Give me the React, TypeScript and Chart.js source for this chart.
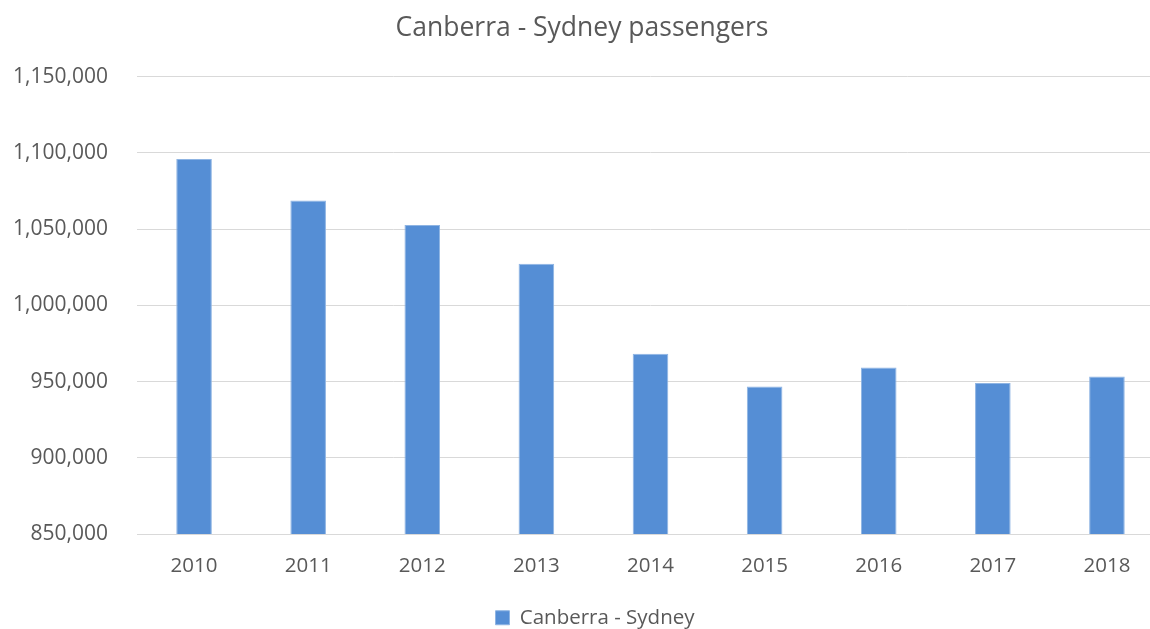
import React, { useEffect, useRef } from "react";
import { Chart, registerables } from "chart.js";

Chart.register(...registerables);

const years = ["2010", "2011", "2012", "2013", "2014", "2015", "2016", "2017", "2018"];
const passengers = [1096000, 1068800, 1052800, 1027400, 968200, 946800, 959200, 949100, 953400];
const seriesName = "Canberra - Sydney";
const chartTitle = "Canberra - Sydney passengers";
const yMin = 850000;
const yMax = 1150000;
const yStep = 50000;

const FONT = "'Open Sans', sans-serif";
const TEXT = "#595959";
const GRID = "#d9d9d9";
const BAR = "#558ed5";

const legendShift = {
  id: "legendShift",
  afterLayout(chart: any) {
    const l = chart.legend;
    if (l) {
      l.left += 13;
      l.right += 13;
    }
  },
};

export default function App() {
  const ref = useRef<HTMLCanvasElement>(null);
  useEffect(() => {
    if (!ref.current) return;
    const chart = new Chart(ref.current, {
      type: "bar",
      data: {
        labels: years,
        datasets: [
          {
            label: seriesName,
            data: passengers,
            backgroundColor: BAR,
            borderColor: "#8eb4e3",
            borderWidth: 1,
            categoryPercentage: 1,
            barPercentage: 0.312,
          },
        ],
      },
      plugins: [legendShift],
      options: {
        responsive: false,
        animation: false,
        layout: { padding: { left: 0, right: 6, top: 0, bottom: 0 } },
        plugins: {
          title: {
            display: true,
            text: chartTitle,
            color: TEXT,
            font: { family: FONT, size: 26.5, weight: "normal" },
            padding: { top: 13, bottom: 32 },
          },
          legend: {
            position: "bottom",
            labels: {
              color: TEXT,
              font: { family: FONT, size: 20.5 },
              boxWidth: 14,
              boxHeight: 14,
              padding: 8,
            },
          },
          tooltip: { enabled: false },
        },
        scales: {
          x: {
            grid: { display: false, drawTicks: false },
            border: { display: true, color: GRID, width: 1 },
            ticks: { color: TEXT, font: { family: FONT, size: 20.5 }, padding: 20 },
            afterFit: (s: any) => {
              s.height = 65.5;
            },
          },
          y: {
            min: yMin,
            max: yMax,
            grid: { color: GRID, lineWidth: 1, drawTicks: false },
            border: { display: false },
            ticks: {
              stepSize: yStep,
              color: TEXT,
              font: { family: FONT, size: 21 },
              padding: 29,
              callback: (v: any) => Number(v).toLocaleString("en-US"),
            },
            afterFit: (s: any) => {
              s.width = 137;
            },
          },
        },
      },
    });
    return () => chart.destroy();
  }, []);
  return (
    <div style={{ position: "absolute", left: 0, top: 0, width: 1150, height: 629, overflow: "hidden", background: "#fff" }}>
      <canvas ref={ref} width={1170} height={638} style={{ display: "block" }} />
    </div>
  );
}
